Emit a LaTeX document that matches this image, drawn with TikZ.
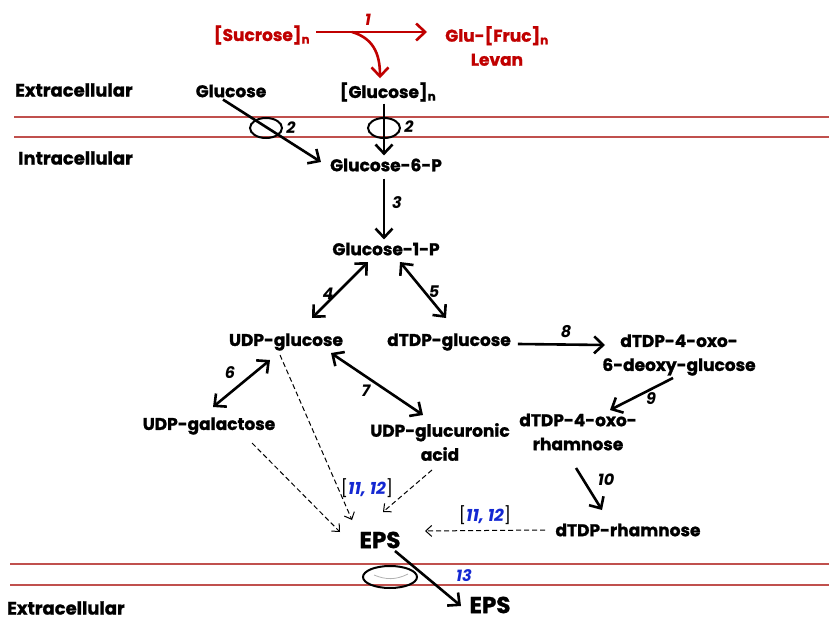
\documentclass[tikz,border=0pt]{standalone}
\usepackage{fontspec}
\setmainfont{Poppins}[BoldFeatures={FakeBold=1.2}]
\usetikzlibrary{arrows.meta,positioning}
\definecolor{sugred}{RGB}{192,0,0}
\definecolor{membred}{RGB}{192,80,77}
\definecolor{refblue}{RGB}{20,40,210}

\begin{document}
\begin{tikzpicture}[
  x=1pt, y=-1pt,
  met/.style={font=\bfseries\fontsize{17}{24}\selectfont, inner sep=1pt, align=center},
  redmet/.style={met, text=sugred},
  side/.style={font=\bfseries\fontsize{18}{20}\selectfont, inner sep=0pt, anchor=west},
  stepnum/.style={font=\bfseries\itshape\fontsize{16}{18}\selectfont, inner sep=1pt},
  refnum/.style={font=\fontsize{17}{19}\selectfont, inner sep=1pt},
  arr/.style={-{Straight Barb[length=9pt,width=17pt]}, line width=2.6pt},
  darr/.style={{Straight Barb[length=9pt,width=17pt]}-{Straight Barb[length=9pt,width=17pt]}, line width=2.6pt},
  redarr/.style={arr, draw=sugred},
  dasharr/.style={-{Straight Barb[length=6pt,width=11pt]}, dash pattern=on 5pt off 3pt, line width=1pt},
  membrane/.style={draw=membred, line width=1.6pt},
  channel/.style={draw, line width=2pt}
]
\useasboundingbox (0,0) rectangle (829,620);

% membranes
\draw[membrane] (14,117) -- (829,117);
\draw[membrane] (14,137) -- (829,137);
\draw[membrane] (10,564) -- (829,564);
\draw[membrane] (10,585) -- (829,585);

\node[side] (extop) at (15,90) {Extracellular};
\node[side] (intra) at (18,158) {Intracellular};
\node[side] (exbot) at (7,608) {Extracellular};

% levan synthesis
\node[redmet] (sucr) at (262,35) {[Sucrose]\textsubscript{n}};
\node[redmet] (levan) at (497,46) {Glu-[Fruc]\textsubscript{n}\\Levan};
\node[met] (glc) at (231,91) {Glucose};
\node[met] (glcn) at (388,92) {[Glucose]\textsubscript{n}};

\draw[redarr] ([xshift=5pt]sucr.east |- 0,32) -- (427,32) coordinate (lev);
\coordinate (split) at (352,32);
\draw[redarr] (split) .. controls (372,38) and (380,52) .. ([xshift=-8pt,yshift=3pt]glcn.north);
\node[stepnum, text=sugred] (n1) at (368,20) {1};

% uptake
\node[met] (g6p) at (386,165) {Glucose-6-P};
\node[met] (g1p) at (386,249) {Glucose-1-P};
\draw[channel] (266,128) ellipse [x radius=16, y radius=10];
\draw[channel] (384,128) ellipse [x radius=16, y radius=10];
\draw[arr] ([xshift=-8pt,yshift=-1pt]glc.south) -- ([xshift=-8pt,yshift=3pt]g6p.west);
\draw[arr] ([xshift=-4pt,yshift=-1pt]glcn.south) -- ([xshift=-2pt,yshift=2pt]g6p.north);
\node[stepnum] (n2a) at (291,128) {2};
\node[stepnum] (n2b) at (409,127) {2};

\draw[arr] ([xshift=-2pt,yshift=-6pt]g6p.south) -- ([xshift=-2pt,yshift=2pt]g1p.north);
\node[stepnum] (n3) at (397,203) {3};

% nucleotide sugars
\node[met] (udpglc) at (286,342) {UDP-glucose};
\node[met] (dtdpglc) at (449,342) {dTDP-glucose};
\node[met] (oxoglc) at (679,355) {dTDP-4-oxo-\\6-deoxy-glucose};
\node[met] (udpgal) at (209,426) {UDP-galactose};
\node[met] (udpgla) at (440,442) {UDP-glucuronic\\acid};
\node[met] (oxorha) at (578,432) {dTDP-4-oxo-\\rhamnose};
\node[met] (dtdprha) at (628,530) {dTDP-rhamnose};

\draw[darr] (368,262) -- (312,318);
\node[stepnum] (n4) at (328,294) {4};
\draw[darr] (400,262) -- (446,318);
\node[stepnum] (n5) at (434,292) {5};
\draw[arr] ([xshift=6pt,yshift=-2pt]dtdpglc.east) -- (605,345);
\node[stepnum] (n8) at (566,332) {8};
\draw[arr] (673,378) -- (610,410);
\node[stepnum] (n9) at (651,399) {9};
\draw[darr] (270,360) -- (213,407);
\node[stepnum] (n6) at (230,373) {6};
\draw[darr] (331,353) -- (423,415);
\node[stepnum] (n7) at (366,391) {7};
\draw[arr] (576,468) -- (602,510);
\node[stepnum] (n10) at (606,480) {10};

% EPS assembly
\node[met, font=\bfseries\fontsize{23}{26}\selectfont] (eps) at (380,540) {EPS};
\node[met, font=\bfseries\fontsize{23}{26}\selectfont] (epsout) at (490,605) {EPS};

\draw[dasharr] (280,355) -- (352,520);
\draw[dasharr] (252,443) -- (340,532);
\draw[dasharr] (432,470) -- (383,512);
\draw[dasharr] (545,530) -- (425,531);
\node[refnum] (ref1) at (367,488) {[\textcolor{refblue}{\bfseries\itshape 11, 12}]};
\node[refnum] (ref2) at (485,515) {[\textcolor{refblue}{\bfseries\itshape 11, 12}]};

\draw[channel] (390,577) ellipse [x radius=27, y radius=11];
\draw[gray!60, line width=0.8pt] (374,575) .. controls (386,580) and (396,580) .. (408,574);
\draw[arr] (395,551) -- (461,606);
\node[stepnum, text=refblue] (n13) at (464,576) {13};
\end{tikzpicture}
\end{document}
